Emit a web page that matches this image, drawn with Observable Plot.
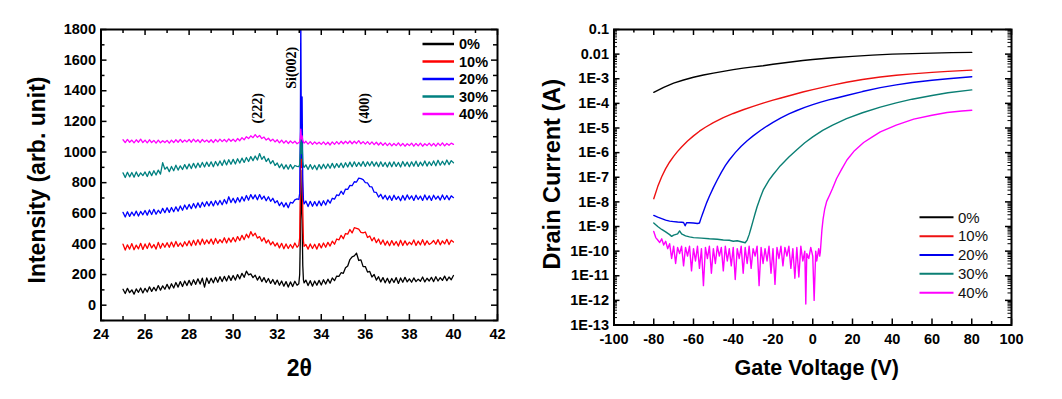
<!DOCTYPE html>
<html><head><meta charset="utf-8">
<script src="https://cdn.jsdelivr.net/npm/d3@7"></script>
<script src="https://cdn.jsdelivr.net/npm/@observablehq/plot@0.6"></script>
<style>
body{margin:0;background:#fff;}
#wrap{position:relative;width:1062px;height:399px;overflow:hidden;background:#fff;}
#left,#right{position:absolute;top:0;}
#left{left:0}#right{left:531px}
</style></head><body><div id="wrap"><div id="left"></div><div id="right"></div></div>
<script>
// ---------- shared ----------
const seriesNames = ["0%", "10%", "20%", "30%", "40%"];
const xrdColors = ["#000000", "#ff0000", "#0000ff", "#008080", "#ff00ff"];
const tftColors = ["#000000", "#ee1111", "#0000ee", "#0b7f74", "#ff00ff"];

// ---------- XRD (left) ----------
const thetaStart = 25, thetaStep = 0.1; // 25.0 ... 40.0
const xrd0 = [104,76,110,82,100,72,106,84,112,80, 110,86,120,90,116,94,128,98,126,104, 136,106,140,112,148,118,154,122,158,128, 162,130,166,136,172,138,176,118,178,142, 176,146,182,150,186,154,188,158,192,162, 194,164,200,172,208,182,222,198,204,180, 196,164,188,154,180,148,174,142,168,136, 164,130,158,124,154,118,152,122,156,130, 150,150,150,164,128,160,124,158,130,162, 132,166,138,170,144,178,160,190,188,212, 208,244,256,298,316,322,340,292,296,252, 252,216,220,184,200,164,186,152,180,146, 176,144,174,148,180,142,178,150,182,152, 172,150,178,154,170,156,184,152,176,158, 182,154,186,158,180,162,190,160,184,166, 194];
const xrd10 = [398,360,394,366,402,362,392,368,404,364, 400,370,406,374,396,366,410,372,404,378, 408,378,412,380,416,384,406,382,414,388, 420,388,424,392,428,394,432,398,426,402, 432,398,436,404,428,408,440,406,438,412, 442,414,448,422,456,428,464,440,480,452, 470,438,448,418,440,406,426,394,414,386, 406,374,404,368,400,370,396,372,406,378, 390,390,390,396,366,400,370,398,366,402, 374,406,378,410,386,418,398,432,426,456, 434,468,464,494,472,506,502,496,476,472, 478,442,452,420,442,408,432,398,426,392, 418,388,422,392,416,386,424,390,420,392, 412,396,426,390,418,394,428,392,420,396, 406,422,398,428,394,420,400,430,396,424, 412];
const xrd20 = [606,576,610,580,608,584,614,582,612,590, 618,588,622,592,626,594,620,600,632,604, 636,606,638,610,642,614,648,620,654,626, 658,630,664,634,668,638,672,644,676,648, 678,648,682,654,684,656,690,662,708,670, 698,668,702,674,708,680,716,686,722,694, 720,688,722,692,712,682,708,678,698,668, 682,650,672,642,668,636,672,666,688,694, 690,690,690,680,644,678,646,676,648,680, 650,682,654,688,666,698,692,720,716,744, 724,758,756,782,780,806,804,830,826,820, 800,798,774,772,738,736,706,724,694,718, 688,714,684,718,690,710,682,716,686,720, 692,714,684,718,690,712,684,720,688,714, 684,718,692,712,686,720,690,716,688,714, 702];
const xrd30 = [864,834,868,838,866,836,870,840,864,846, 870,840,874,846,878,850,882,856,930,888, 902,872,906,878,914,882,910,886,918,890, 922,892,926,896,928,900,932,902,934,906, 936,904,938,910,942,912,948,916,950,920, 952,922,956,928,960,932,964,938,970,944, 974,948,990,952,972,938,958,924,944,912, 928,898,922,890,916,888,918,890,912,906, 905,905,905,916,886,918,888,914,884,918, 890,920,892,922,894,926,896,924,900,928, 898,930,902,934,904,936,906,932,908,938, 906,936,910,938,908,934,904,936,906,932, 902,934,904,936,906,932,902,938,908,934, 904,936,908,940,906,934,910,942,908,936, 912,942,910,946,914,940,916,948,918,944, 930];
const xrd40 = [1080,1062,1082,1064,1078,1060,1080,1064,1084,1062, 1078,1060,1080,1062,1076,1058,1078,1060,1074,1062, 1076,1058,1078,1062,1080,1064,1082,1064,1078,1066, 1082,1064,1084,1066,1080,1062,1082,1066,1078,1064, 1080,1062,1082,1066,1084,1068,1082,1066,1086,1070, 1084,1068,1088,1074,1094,1080,1100,1088,1106,1094, 1114,1096,1108,1088,1098,1078,1090,1072,1084,1066, 1080,1060,1078,1058,1074,1056,1072,1058,1070,1054, 1062,1062,1062,1070,1052,1068,1050,1066,1052,1064, 1050,1066,1048,1064,1046,1066,1050,1068,1052,1070, 1054,1070,1056,1072,1054,1070,1056,1074,1054,1068, 1052,1068,1050,1066,1048,1064,1046,1062,1044,1060, 1042,1058,1040,1056,1042,1060,1040,1056,1038,1054, 1042,1058,1038,1056,1040,1058,1038,1054,1042,1058, 1040,1056,1038,1058,1042,1060,1040,1056,1044,1058, 1050];
// Si(002) substrate peak, sampled finer
const siTheta = [32.98, 33.02, 33.05, 33.07, 33.10, 33.13, 33.16, 33.19, 33.22];
const siPeak0  = [140, 200, 450, 880, 640, 560, 260, 165, 146];
const siPeak10 = [392, 440, 760, 1220, 900, 1020, 620, 420, 384];
const siPeak20 = [690, 730, 1150, 1900, 960, 1360, 820, 690, 662];
const siPeak30 = [905, 918, 1010, 1130, 990, 1060, 940, 908, 900];
const siPeak40 = [1062, 1066, 1095, 1150, 1085, 1105, 1075, 1064, 1058];

const xrdTicksMajor = [24, 26, 28, 30, 32, 34, 36, 38, 40, 42];
const xrdTicksMinor = [25, 27, 29, 31, 33, 35, 37, 39, 41];
const intTicksMajor = [0, 200, 400, 600, 800, 1000, 1200, 1400, 1600, 1800];
const intTicksMinor = [-100, 100, 300, 500, 700, 900, 1100, 1300, 1500, 1700];
const peakLabels = ["(222)", "Si(002)", "(400)"];
const peakLabelX = [31.12, 32.65, 35.95];
const peakLabelY = [1285, 1550, 1285];

function buildXrd(base, peak, name) {
  const rows = [];
  base.forEach((v, i) => {
    const t = Math.round((thetaStart + i * thetaStep) * 100) / 100;
    if (t < 32.97 || t > 33.23) rows.push({theta: t, I: v, series: name});
  });
  siTheta.forEach((t, j) => rows.push({theta: t, I: peak[j], series: name}));
  rows.sort((a, b) => a.theta - b.theta);
  return rows;
}
const xrdRows = [
  ...buildXrd(xrd0, siPeak0, "0%"),
  ...buildXrd(xrd10, siPeak10, "10%"),
  ...buildXrd(xrd20, siPeak20, "20%"),
  ...buildXrd(xrd30, siPeak30, "30%"),
  ...buildXrd(xrd40, siPeak40, "40%")
];
const peakRows = peakLabels.map((t, i) => ({label: t, x: peakLabelX[i], y: peakLabelY[i]}));

// ---------- TFT transfer (right), [Vg, log10(Id)] ----------
const tft0 = [[-80,-3.55],[-75,-3.35],[-70,-3.18],[-65,-3.05],[-60,-2.94],[-55,-2.85],[-50,-2.77],[-45,-2.7],[-40,-2.63],[-35,-2.57],[-30,-2.52],[-25,-2.47],[-20,-2.41],[-15,-2.36],[-10,-2.31],[-5,-2.26],[0,-2.22],[10,-2.15],[20,-2.09],[30,-2.04],[40,-2.0],[50,-1.98],[60,-1.96],[70,-1.94],[80,-1.93]];
const tft10 = [[-80,-7.87],[-78,-7.38],[-76,-6.98],[-74,-6.65],[-72,-6.38],[-70,-6.15],[-68,-5.95],[-66,-5.77],[-63,-5.53],[-60,-5.32],[-57,-5.13],[-54,-4.97],[-50,-4.78],[-45,-4.58],[-40,-4.41],[-35,-4.26],[-30,-4.12],[-25,-3.99],[-20,-3.87],[-16,-3.78],[-10,-3.65],[-5,-3.54],[0,-3.44],[5,-3.35],[10,-3.26],[17,-3.14],[25,-3.03],[34,-2.93],[42,-2.86],[50,-2.8],[60,-2.74],[68,-2.7],[80,-2.65]];
const tft20 = [[-80,-8.55],[-78,-8.62],[-76,-8.68],[-74,-8.74],[-72,-8.78],[-70,-8.8],[-68,-8.82],[-66,-8.83],[-65,-8.84],[-64.2,-8.97],[-63.5,-8.85],[-62,-8.85],[-60,-8.86],[-58,-8.88],[-57,-8.86],[-56.2,-8.66],[-55.5,-8.5],[-54.5,-8.28],[-53.3,-8.02],[-52,-7.77],[-50,-7.42],[-48,-7.1],[-46,-6.8],[-44,-6.53],[-42,-6.3],[-39,-6.0],[-36,-5.74],[-33,-5.52],[-30,-5.32],[-26,-5.08],[-23,-4.92],[-20,-4.77],[-16,-4.59],[-12,-4.43],[-8,-4.29],[-4,-4.16],[0,-4.05],[4,-3.95],[8,-3.86],[12,-3.78],[17,-3.68],[25,-3.52],[34,-3.36],[42,-3.25],[50,-3.15],[60,-3.06],[68,-3.0],[80,-2.92]];
const tft30 = [[-80,-8.86],[-78,-9.0],[-76,-9.12],[-74,-9.22],[-72,-9.33],[-71,-9.4],[-70,-9.35],[-68,-9.3],[-67,-9.18],[-66,-9.3],[-64,-9.38],[-62,-9.42],[-60,-9.45],[-56,-9.47],[-52,-9.5],[-48,-9.52],[-45,-9.55],[-42,-9.56],[-40,-9.6],[-38,-9.58],[-36,-9.62],[-34,-9.66],[-33,-9.55],[-32,-9.33],[-31,-9.05],[-30,-8.76],[-29,-8.47],[-28,-8.2],[-26.5,-7.85],[-24.8,-7.5],[-22,-7.12],[-20,-6.9],[-18,-6.7],[-16.4,-6.54],[-12,-6.18],[-8,-5.88],[-4,-5.6],[0,-5.36],[5,-5.1],[10,-4.88],[17,-4.62],[25,-4.38],[34,-4.15],[42,-3.98],[50,-3.83],[60,-3.68],[68,-3.57],[80,-3.45]];
const tft40 = [[-80,-9.2],[-79,-9.45],[-78,-9.55],[-77,-9.65],[-76,-9.5],[-75,-9.75],[-74,-9.6],[-73,-9.9],[-72,-9.7],[-71,-10.3],[-70,-9.8],[-69,-10.5],[-68,-9.85],[-67,-10.1],[-66,-9.8],[-65,-10.6],[-64,-9.85],[-63,-10.2],[-62,-9.8],[-61,-10.8],[-60,-9.9],[-59,-10.4],[-58,-9.8],[-57,-10.7],[-56,-9.9],[-55,-11.4],[-54,-9.85],[-53,-10.3],[-52,-9.8],[-51,-10.9],[-50,-9.9],[-49,-10.5],[-48,-9.8],[-47,-10.2],[-46,-9.85],[-45,-10.8],[-44,-9.8],[-43,-10.4],[-42,-9.9],[-41,-10.6],[-40,-9.85],[-39,-11.15],[-38,-9.9],[-37,-10.3],[-36,-9.8],[-35,-10.9],[-34,-9.85],[-33,-10.5],[-32,-9.8],[-31,-10.7],[-30,-9.9],[-29,-10.2],[-28,-9.8],[-27,-11.4],[-26,-9.85],[-25,-10.5],[-24,-9.9],[-23,-10.4],[-22,-9.8],[-21,-10.9],[-20,-9.9],[-19,-11.35],[-18,-9.85],[-17,-10.3],[-16,-9.8],[-15,-10.6],[-14,-9.85],[-13,-10.2],[-12,-9.8],[-11,-10.7],[-10,-9.9],[-9,-11.1],[-8,-9.85],[-7,-11.05],[-6,-9.8],[-5,-10.4],[-4,-10.0],[-3.5,-12.15],[-3,-10.1],[-2,-10.3],[-1,-9.85],[0,-10.2],[0.7,-12.0],[1.5,-10.0],[2,-10.4],[3,-9.9],[3.5,-10.2],[3.8,-10.05],[4.2,-9.6],[4.6,-9.15],[5.2,-8.7],[6,-8.3],[7,-7.98],[8.5,-7.72],[10,-7.45],[12,-7.05],[14.5,-6.68],[17.2,-6.3],[21,-5.92],[25.6,-5.59],[30,-5.36],[34,-5.16],[42,-4.88],[50.8,-4.64],[60,-4.48],[67.6,-4.37],[75,-4.31],[80,-4.28]];

const vgTicksMajor = [-100, -80, -60, -40, -20, 0, 20, 40, 60, 80, 100];
const vgTicksMinor = [-90, -70, -50, -30, -10, 10, 30, 50, 70, 90];
const idTickExps = [-1, -2, -3, -4, -5, -6, -7, -8, -9, -10, -11, -12, -13];
const idTickLabels = ["0.1", "0.01", "1E-3", "1E-4", "1E-5", "1E-6", "1E-7", "1E-8", "1E-9", "1E-10", "1E-11", "1E-12", "1E-13"];

const tftSeries = [tft0, tft10, tft20, tft30, tft40];
const tftRows = tftSeries.flatMap((arr, i) => arr.map(d => ({vg: d[0], id: Math.pow(10, d[1]), series: seriesNames[i]})));
const idMajor = idTickExps.map(e => Math.pow(10, e));
const idMinor = [];
for (let e = -13; e <= -2; e++) for (let k = 2; k <= 9; k++) idMinor.push(k * Math.pow(10, e));
const idLabelMap = new Map(idTickExps.map((e, i) => [e, idTickLabels[i]]));

const sans = "'Liberation Sans', Arial, Helvetica, sans-serif";
const serif = "'Liberation Serif', 'Times New Roman', serif";

// ---------- left plot ----------
const L = {w: 531, h: 399, ml: 100.5, mr: 34, mt: 29, mb: 79};
const LW = L.w - L.ml - L.mr, LH = L.h - L.mt - L.mb;
const left = Plot.plot({
  width: L.w, height: L.h,
  marginLeft: L.ml, marginRight: L.mr, marginTop: L.mt, marginBottom: L.mb,
  style: {fontFamily: sans, fontSize: "14.5px", fontWeight: "bold", color: "#000", background: "#fff", overflow: "visible"},
  x: {domain: [24, 42]},
  y: {domain: [-100, 1800]},
  color: {domain: seriesNames, range: xrdColors},
  marks: [
    Plot.line(xrdRows, {x: "theta", y: "I", z: "series", stroke: "series", strokeWidth: 1.3, clip: true}),
    Plot.text(peakRows, {x: "x", y: "y", text: "label", rotate: -90, fontFamily: serif, fontWeight: "bold", fontSize: 14, fill: "#000"}),
    Plot.tickX(xrdTicksMajor, {x: d => d, insetTop: LH - 6, strokeWidth: 1.5}),
    Plot.tickX(xrdTicksMajor, {x: d => d, insetBottom: LH - 6, strokeWidth: 1.5}),
    Plot.tickX(xrdTicksMinor, {x: d => d, insetTop: LH - 4, strokeWidth: 1.5}),
    Plot.tickX(xrdTicksMinor, {x: d => d, insetBottom: LH - 4, strokeWidth: 1.5}),
    Plot.tickY(intTicksMajor, {y: d => d, insetRight: LW - 6, strokeWidth: 1.5}),
    Plot.tickY(intTicksMajor, {y: d => d, insetLeft: LW - 6, strokeWidth: 1.5}),
    Plot.tickY(intTicksMinor, {y: d => d, insetRight: LW - 4, strokeWidth: 1.5}),
    Plot.tickY(intTicksMinor, {y: d => d, insetLeft: LW - 4, strokeWidth: 1.5}),
    Plot.axisX({ticks: xrdTicksMajor, tickSize: 0, tickPadding: 8, tickFormat: d => String(d), label: null}),
    Plot.axisY({ticks: intTicksMajor, tickSize: 0, tickPadding: 5, tickFormat: d => String(d), label: null}),
    Plot.frame({stroke: "#000", strokeWidth: 2}),
    Plot.text(["Intensity (arb. unit)"], {frameAnchor: "left", text: d => d, textAnchor: "middle", lineAnchor: "middle", rotate: -90, dx: -63, dy: 5, fontSize: 23, fontWeight: "bold", fill: "#000"}),
    Plot.text(["2θ"], {frameAnchor: "bottom", text: d => d, textAnchor: "middle", dy: 48, lineAnchor: "middle", fontSize: 23, fontWeight: "bold", fill: "#000"})
  ]
});
document.getElementById("left").appendChild(left);

// ---------- right plot ----------
const R = {w: 531, h: 399, ml: 82.5, mr: 51, mt: 29, mb: 74.5};
const RW = R.w - R.ml - R.mr, RH = R.h - R.mt - R.mb;
const right = Plot.plot({
  width: R.w, height: R.h,
  marginLeft: R.ml, marginRight: R.mr, marginTop: R.mt, marginBottom: R.mb,
  style: {fontFamily: sans, fontSize: "14.5px", fontWeight: "bold", color: "#000", background: "#fff", overflow: "visible"},
  x: {domain: [-100, 100]},
  y: {type: "log", domain: [1e-13, 0.1]},
  color: {domain: seriesNames, range: tftColors},
  marks: [
    Plot.line(tftRows, {x: "vg", y: "id", z: "series", stroke: "series", strokeWidth: 1.4, clip: true}),
    Plot.tickX(vgTicksMajor, {x: d => d, insetTop: RH - 6, strokeWidth: 1.5}),
    Plot.tickX(vgTicksMajor, {x: d => d, insetBottom: RH - 6, strokeWidth: 1.5}),
    Plot.tickX(vgTicksMinor, {x: d => d, insetTop: RH - 3.5, strokeWidth: 1.5}),
    Plot.tickX(vgTicksMinor, {x: d => d, insetBottom: RH - 3.5, strokeWidth: 1.5}),
    Plot.tickY(idMajor, {y: d => d, insetRight: RW - 6, strokeWidth: 1.5}),
    Plot.tickY(idMajor, {y: d => d, insetLeft: RW - 6, strokeWidth: 1.5}),
    Plot.tickY(idMinor, {y: d => d, insetRight: RW - 3.5, strokeWidth: 1}),
    Plot.tickY(idMinor, {y: d => d, insetLeft: RW - 3.5, strokeWidth: 1}),
    Plot.axisX({ticks: vgTicksMajor, tickSize: 0, tickPadding: 9, tickFormat: d => String(d), label: null}),
    Plot.axisY({ticks: idMajor, tickSize: 0, tickPadding: 5, tickFormat: d => idLabelMap.get(Math.round(Math.log10(d))), label: null}),
    Plot.frame({stroke: "#000", strokeWidth: 2}),
    Plot.text(["Drain Current (A)"], {frameAnchor: "left", text: d => d, textAnchor: "middle", lineAnchor: "middle", rotate: -90, dx: -62, dy: -3, fontSize: 23.5, fontWeight: "bold", fill: "#000"}),
    Plot.text(["Gate Voltage (V)"], {frameAnchor: "bottom", text: d => d, textAnchor: "middle", dx: 4, dy: 43, lineAnchor: "middle", fontSize: 21.5, fontWeight: "bold", fill: "#000"})
  ]
});
document.getElementById("right").appendChild(right);

// ---------- legends ----------
function addLegend(svg, opt) {
  const g = d3.select(svg).append("g").attr("class", "legend");
  seriesNames.forEach((name, i) => {
    const y = opt.y0 + i * opt.dy;
    g.append("line").attr("x1", opt.x1).attr("x2", opt.x2).attr("y1", y).attr("y2", y)
      .attr("stroke", opt.colors[i]).attr("stroke-width", opt.sw);
    g.append("text").attr("x", opt.xt).attr("y", y).attr("dy", "0.35em")
      .attr("text-anchor", "start")
      .attr("font-family", sans).attr("font-size", opt.fs).attr("font-weight", opt.fw)
      .attr("fill", opt.fill).text(name);
  });
}
addLegend(left, {x1: 422.5, x2: 454, xt: 459, y0: 44, dy: 17.5, colors: xrdColors, sw: 2.5, fs: 14.5, fw: "bold", fill: "#000"});
addLegend(right, {x1: 388.5, x2: 422.5, xt: 427, y0: 217.3, dy: 18.85, colors: tftColors, sw: 2, fs: 15, fw: "normal", fill: "#111"});
</script></body></html>
